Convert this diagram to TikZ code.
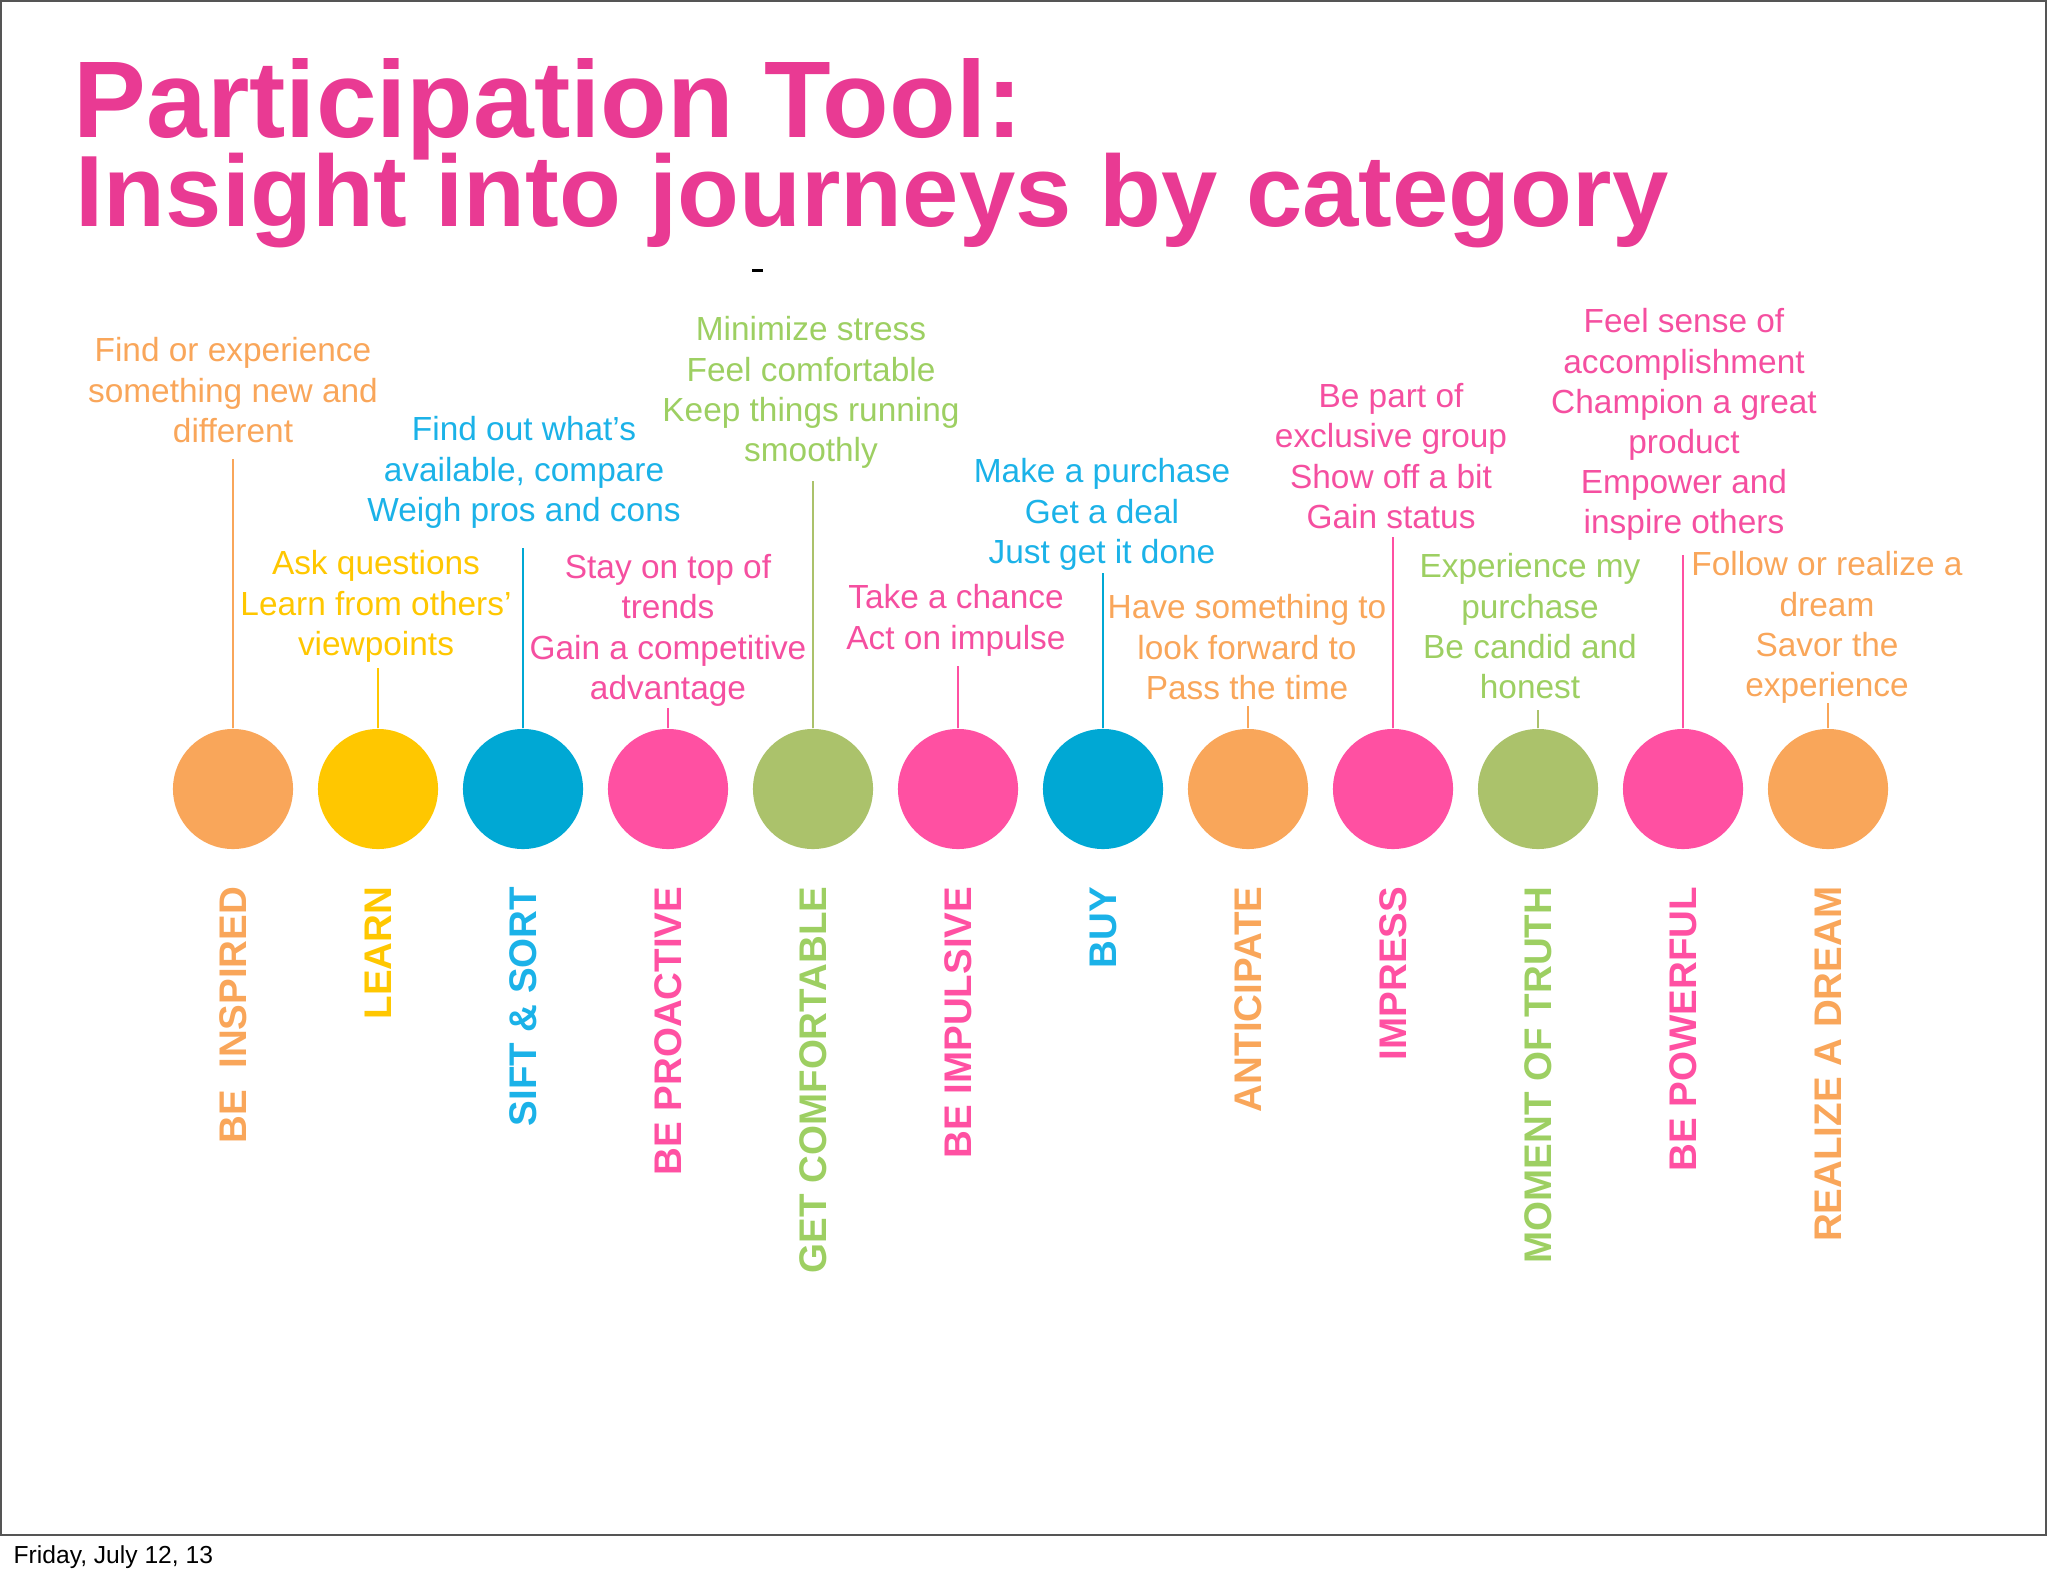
\documentclass[tikz,border=0pt]{standalone}
\usepackage{fontspec}
\setmainfont{Liberation Sans}
\usetikzlibrary{positioning}

\definecolor{jorange}{HTML}{F9A65A}
\definecolor{jyellow}{HTML}{FFC700}
\definecolor{jblue}{HTML}{00A8D4}
\definecolor{jpink}{HTML}{FF50A2}
\definecolor{jgreen}{HTML}{ABC26B}
\definecolor{tblue}{HTML}{1BB2E8}
\definecolor{tgreen}{HTML}{9DCF62}
\definecolor{tpink}{HTML}{F54FA0}
\definecolor{titlepink}{HTML}{E93A93}
\definecolor{framegray}{HTML}{555555}

\tikzset{
  dot/.style={circle, inner sep=0pt, minimum size=1.2cm},
  desc/.style={align=center, inner sep=0pt, anchor=north,
    font=\fontsize{9.5}{11.4}\selectfont},
  cat/.style={rotate=90, anchor=east, inner sep=0pt,
    font=\fontsize{10.95}{12}\selectfont\bfseries},
  stem/.style={line width=0.5pt}
}

\begin{document}
\begin{tikzpicture}[x=0.01cm, y=-0.01cm]
\useasboundingbox (0,0) rectangle (2048,1576);
% slide frame and footer
\draw[framegray, line width=0.7pt] (1,1) rectangle (2046,1535);
\node[anchor=base west, inner sep=0pt, font=\fontsize{7}{8}\selectfont] (date) at (13,1563) {Friday, July 12, 13};
% title
\node[anchor=base west, inner sep=0pt, text=titlepink, font=\fontsize{31}{34}\selectfont\bfseries] (title1) at (73,138) {Participation Tool:};
\node[anchor=base west, inner sep=0pt, text=titlepink, font=\fontsize{28.8}{32}\selectfont\bfseries] (title2) at (75,227) {Insight into journeys by category};
\fill (752,269.5) rectangle (763,272.5);
% journey descriptions
\node[desc, text=jorange] (t1) at (233,337) {Find or experience\\something new and\\different};
\node[desc, text=jyellow] (t2) at (376,550) {Ask questions\\Learn from others’\\viewpoints};
\node[desc, text=tblue] (t3) at (524,416) {Find out what’s\\available, compare\\Weigh pros and cons};
\node[desc, text=tpink] (t4) at (668,554) {Stay on top of\\trends\\Gain a competitive\\advantage};
\node[desc, text=tgreen] (t5) at (811,316) {Minimize stress\\Feel comfortable\\Keep things running\\smoothly};
\node[desc, text=tpink] (t6) at (956,584) {Take a chance\\Act on impulse};
\node[desc, text=tblue] (t7) at (1102,458) {Make a purchase\\Get a deal\\Just get it done};
\node[desc, text=jorange] (t8) at (1247,594) {Have something to\\look forward to\\Pass the time};
\node[desc, text=tpink] (t9) at (1391,383) {Be part of\\exclusive group\\Show off a bit\\Gain status};
\node[desc, text=tgreen] (t10) at (1530,553) {Experience my\\purchase\\Be candid and\\honest};
\node[desc, text=tpink] (t11) at (1684,308) {Feel sense of\\accomplishment\\Champion a great\\product\\Empower and\\inspire others};
\node[desc, text=jorange] (t12) at (1827,551) {Follow or realize a\\dream\\Savor the\\experience};
% circles, stems and categories
\foreach \i/\fillc/\textc/\ytop/\lbl in {
  1/jorange/jorange/459/{BE\ \ INSPIRED},
  2/jyellow/jyellow/668/LEARN,
  3/jblue/tblue/548/{SIFT \& SORT},
  4/jpink/jpink/708/{BE PROACTIVE},
  5/jgreen/tgreen/481/{GET COMFORTABLE},
  6/jpink/jpink/666/{BE IMPULSIVE},
  7/jblue/tblue/573/BUY,
  8/jorange/jorange/706/ANTICIPATE,
  9/jpink/jpink/537/IMPRESS,
  10/jgreen/tgreen/710/{MOMENT OF TRUTH},
  11/jpink/jpink/555/{BE POWERFUL},
  12/jorange/jorange/703/{REALIZE A DREAM}} {
    \pgfmathsetmacro{\cx}{233+145*(\i-1)}
    \node[dot, fill=\fillc] (d\i) at (\cx,789) {};
    \coordinate (top\i) at (\cx,\ytop);
    \draw[stem, \fillc] (d\i.north) -- (top\i);
    \node[cat, text=\textc] (l\i) at (\cx,886) {\lbl};
}
\end{tikzpicture}
\end{document}
